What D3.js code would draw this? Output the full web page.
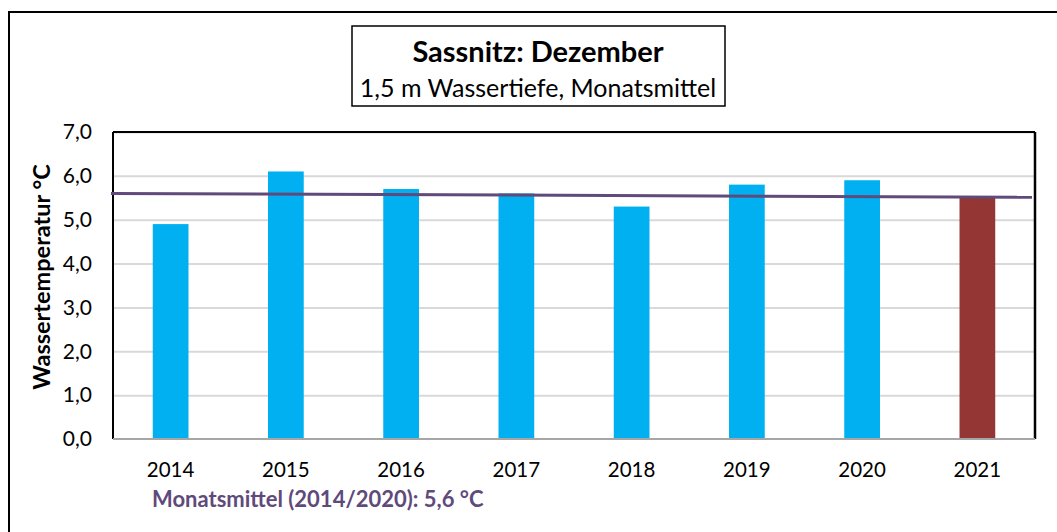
<!DOCTYPE html>
<html>
<head>
<meta charset="utf-8">
<script src="https://cdn.jsdelivr.net/npm/d3@7"></script>
<style>
  body { margin: 0; background: #fff; }
  svg { font-family: Lato, "Open Sans", sans-serif; }
</style>
</head>
<body>
<div id="chart"></div>
<script>
// data
var years = ["2014", "2015", "2016", "2017", "2018", "2019", "2020", "2021"];
var temps = [4.9, 6.1, 5.7, 5.6, 5.3, 5.8, 5.9, 5.5];
var yTicks = [0, 1, 2, 3, 4, 5, 6, 7];
var meanLine = [5.6, 5.51]; // start / end of the drawn mean line
var meanLabel = "Monatsmittel (2014/2020): 5,6 °C";
var title = "Sassnitz: Dezember";
var subtitle = "1,5 m Wassertiefe, Monatsmittel";

var W = 1057, H = 532;
var margin = {left: 113, right: 22, top: 132, bottom: 93};
var width = W - margin.left - margin.right;
var height = H - margin.top - margin.bottom;

var svg = d3.select("#chart").append("svg")
    .attr("width", W).attr("height", H);

// outer frame (runs off the right and bottom edge)
svg.append("rect")
    .attr("x", 9).attr("y", 12)
    .attr("width", W + 20).attr("height", H + 20)
    .attr("fill", "none").attr("stroke", "#000").attr("stroke-width", 2);

// title box
var tb = svg.append("g");
tb.append("rect")
    .attr("x", 352).attr("y", 26).attr("width", 373).attr("height", 80)
    .attr("fill", "#fff").attr("stroke", "#000").attr("stroke-width", 1.5);
tb.append("text")
    .attr("x", 538).attr("y", 62).attr("text-anchor", "middle")
    .attr("font-size", 29).attr("font-weight", "bold").text(title);
tb.append("text")
    .attr("x", 538).attr("y", 97).attr("text-anchor", "middle")
    .attr("font-size", 25).text(subtitle);

var g = svg.append("g")
    .attr("transform", "translate(" + margin.left + "," + margin.top + ")");

var x = d3.scaleBand().domain(years).range([0, width]).paddingInner(0.69).paddingOuter(0.345);
var y = d3.scaleLinear().domain([0, 7]).range([height, 0]);

// gridlines
g.append("g")
    .call(d3.axisLeft(y).tickValues(yTicks.slice(1)).tickSize(-width).tickFormat(""))
    .call(function(a) { a.select(".domain").remove(); })
    .selectAll("line").attr("stroke", "#d9d9d9").attr("stroke-width", 2);

// bars
g.selectAll("rect.bar")
    .data(years)
    .enter().append("rect")
    .attr("class", "bar")
    .attr("x", function(d) { return x(d); })
    .attr("width", x.bandwidth())
    .attr("y", function(d, i) { return y(temps[i]); })
    .attr("height", function(d, i) { return height - y(temps[i]); })
    .attr("fill", function(d) { return d === "2021" ? "#943634" : "#00b0f0"; });

// plot frame: black left/top/right, grey bottom
g.append("line").attr("x1", 0).attr("x2", 0).attr("y1", 0).attr("y2", height)
    .attr("stroke", "#000").attr("stroke-width", 2);
g.append("line").attr("x1", 0).attr("x2", width).attr("y1", 0).attr("y2", 0)
    .attr("stroke", "#000").attr("stroke-width", 2);
g.append("line").attr("x1", width).attr("x2", width).attr("y1", 0).attr("y2", height)
    .attr("stroke", "#000").attr("stroke-width", 2.5);
g.append("line").attr("x1", 0).attr("x2", width).attr("y1", height).attr("y2", height)
    .attr("stroke", "#a6a6a6").attr("stroke-width", 2);

// mean line
g.append("line")
    .attr("x1", -2).attr("x2", width - 3)
    .attr("y1", y(meanLine[0])).attr("y2", y(meanLine[1]))
    .attr("stroke", "#604a7b").attr("stroke-width", 3);

// y axis labels
var ya = g.append("g")
    .call(d3.axisLeft(y).tickValues(yTicks).tickSize(0).tickPadding(21)
        .tickFormat(function(d) { return d3.format(".1f")(d).replace(".", ","); }));
ya.select(".domain").remove();
ya.selectAll("text").attr("font-size", 21).attr("fill", "#000")
    .attr("font-family", "Lato, sans-serif");

// x axis labels
var xa = g.append("g").attr("transform", "translate(0," + height + ")")
    .call(d3.axisBottom(x).tickSize(0).tickPadding(23));
xa.select(".domain").remove();
xa.selectAll("text").attr("font-size", 20.5).attr("fill", "#000")
    .attr("font-family", "Lato, sans-serif");

// axis title
svg.append("text")
    .attr("transform", "translate(50,277) rotate(-90)")
    .attr("text-anchor", "middle")
    .attr("font-size", 23.5).attr("font-weight", "bold")
    .text("Wassertemperatur °C");

// mean label
svg.append("text")
    .attr("x", 152).attr("y", 507)
    .attr("font-size", 22).attr("font-weight", "bold").attr("fill", "#604a7b")
    .text(meanLabel);
</script>
</body>
</html>
